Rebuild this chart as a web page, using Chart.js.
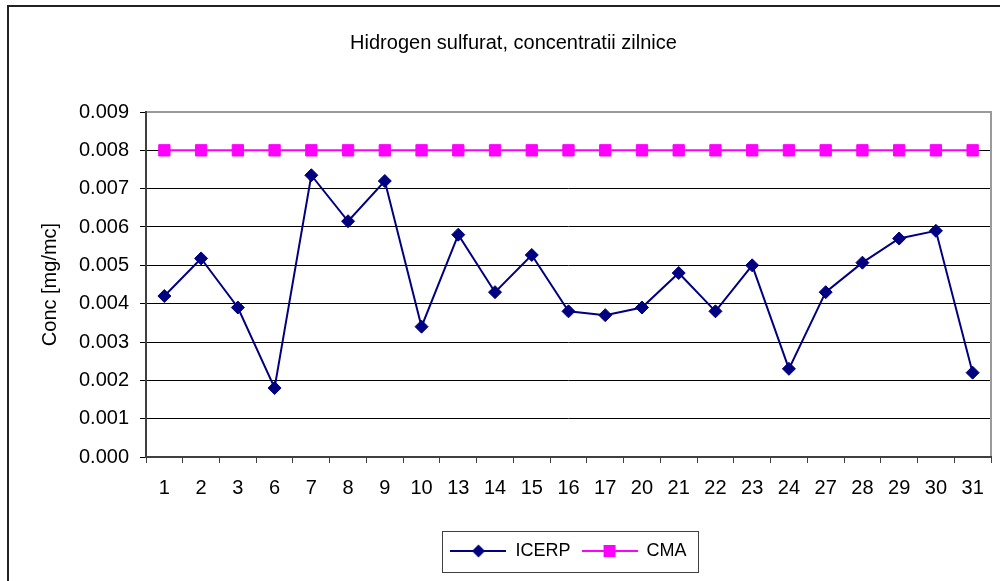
<!DOCTYPE html>
<html>
<head>
<meta charset="utf-8">
<script src="https://cdn.jsdelivr.net/npm/chart.js@4/dist/chart.umd.min.js"></script>
<style>
  html, body { margin: 0; padding: 0; background: #fff; }
  #wrap { width: 1000px; height: 581px; position: relative; }
</style>
</head>
<body>
<div id="wrap"><canvas id="c" width="1000" height="581"></canvas></div>
<script>
const chartTitle = 'Hidrogen sulfurat, concentratii zilnice';
const yAxisTitle = 'Conc [mg/mc]';
const days = ['1','2','3','6','7','8','9','10','13','14','15','16','17','20','21','22','23','24','27','28','29','30','31'];
const icerp = [0.0042,0.00518,0.0039,0.0018,0.00735,0.00615,0.0072,0.0034,0.0058,0.0043,0.00527,0.0038,0.0037,0.0039,0.0048,0.0038,0.0050,0.0023,0.0043,0.00507,0.0057,0.0059,0.0022];
const cma = [0.008,0.008,0.008,0.008,0.008,0.008,0.008,0.008,0.008,0.008,0.008,0.008,0.008,0.008,0.008,0.008,0.008,0.008,0.008,0.008,0.008,0.008,0.008];
const yTicks = [0,0.001,0.002,0.003,0.004,0.005,0.006,0.007,0.008,0.009];

const NAVY = '#000080';
const MAGENTA = '#FF00FF';
const FONT = "'Liberation Sans', Arial, sans-serif";

function legendIcon(color, shape) {
  const c = document.createElement('canvas');
  c.width = 56; c.height = 16;
  const g = c.getContext('2d');
  g.strokeStyle = color; g.lineWidth = 2;
  g.beginPath(); g.moveTo(0, 8); g.lineTo(56, 8); g.stroke();
  g.fillStyle = color;
  g.beginPath();
  if (shape === 'diamond') {
    g.moveTo(28, 1.5); g.lineTo(34.5, 8); g.lineTo(28, 14.5); g.lineTo(21.5, 8); g.closePath();
  } else {
    g.rect(22, 2, 12, 12);
  }
  g.fill();
  return c;
}
const iconIcerp = legendIcon(NAVY, 'diamond');
const iconCma = legendIcon(MAGENTA, 'square');

const framePlugin = {
  id: 'frame',
  beforeDraw(chart) {
    const ctx = chart.ctx;
    ctx.save();
    ctx.fillStyle = '#fff';
    ctx.fillRect(0, 0, chart.width, chart.height);
    ctx.strokeStyle = '#222';
    ctx.lineWidth = 2;
    ctx.beginPath();
    ctx.moveTo(8, chart.height + 5);
    ctx.lineTo(8, 6);
    ctx.lineTo(chart.width + 5, 6);
    ctx.stroke();
    ctx.restore();
  },
  afterDraw(chart) {
    const ctx = chart.ctx;
    const a = chart.chartArea;
    ctx.save();
    ctx.strokeStyle = '#9a9a9a';
    ctx.lineWidth = 2;
    ctx.beginPath();
    ctx.moveTo(a.left, a.top);
    ctx.lineTo(a.right, a.top);
    ctx.lineTo(a.right, a.bottom);
    ctx.stroke();
    ctx.strokeStyle = '#404040';
    ctx.lineWidth = 2;
    ctx.beginPath();
    ctx.moveTo(a.left, a.top - 1);
    ctx.lineTo(a.left, a.bottom);
    ctx.lineTo(a.right + 1, a.bottom);
    ctx.stroke();
    const hb = chart.legend && chart.legend.legendHitBoxes;
    if (hb && hb.length) {
      let minX = Infinity, maxX = -Infinity, minY = Infinity, maxY = -Infinity;
      hb.forEach(h => {
        minX = Math.min(minX, h.left); maxX = Math.max(maxX, h.left + h.width);
        minY = Math.min(minY, h.top); maxY = Math.max(maxY, h.top + h.height);
      });
      ctx.strokeStyle = '#404040';
      ctx.lineWidth = 1;
      ctx.strokeRect(Math.round(minX - 8) + 0.5, Math.round(minY - 11) + 0.5,
                     Math.round(maxX - minX + 20), Math.round(maxY - minY + 23));
    }
    ctx.restore();
  }
};

new Chart(document.getElementById('c'), {
  type: 'line',
  data: {
    labels: days,
    datasets: [
      {
        label: 'ICERP',
        data: icerp,
        borderColor: NAVY,
        backgroundColor: NAVY,
        borderWidth: 2,
        pointStyle: 'rectRot',
        pointRadius: 6.5,
        pointBorderWidth: 1,
        pointBackgroundColor: NAVY,
        pointBorderColor: NAVY,
        tension: 0,
        fill: false,
        order: 1
      },
      {
        label: 'CMA',
        data: cma,
        borderColor: MAGENTA,
        backgroundColor: MAGENTA,
        borderWidth: 2,
        pointStyle: 'rect',
        pointRadius: 8,
        pointBorderWidth: 1,
        pointBackgroundColor: MAGENTA,
        pointBorderColor: MAGENTA,
        tension: 0,
        fill: false,
        order: 2
      }
    ]
  },
  options: {
    responsive: false,
    animation: false,
    devicePixelRatio: 1,
    layout: { padding: { left: 34, right: 7, top: 0, bottom: 11 } },
    plugins: {
      title: {
        display: true,
        text: chartTitle,
        color: '#000',
        font: { family: FONT, size: 20, weight: 'normal', lineHeight: 1.2 },
        padding: { top: 31, bottom: 57 }
      },
      legend: {
        display: true,
        position: 'bottom',
        fullSize: false,
        labels: {
          color: '#000',
          font: { family: FONT, size: 18 },
          usePointStyle: true,
          pointStyleWidth: 56,
          padding: 11,
          generateLabels(chart) {
            return chart.data.datasets.map((ds, i) => ({
              text: ds.label,
              pointStyle: i === 0 ? iconIcerp : iconCma,
              fillStyle: ds.borderColor,
              strokeStyle: ds.borderColor,
              lineWidth: 0,
              hidden: false,
              datasetIndex: i,
              fontColor: '#000'
            }));
          }
        }
      },
      tooltip: { enabled: false }
    },
    scales: {
      x: {
        offset: true,
        grid: {
          display: true,
          offset: true,
          drawOnChartArea: false,
          drawTicks: true,
          tickLength: 6,
          tickColor: '#404040',
          tickWidth: 1
        },
        border: { display: false },
        ticks: {
          color: '#000',
          font: { family: FONT, size: 20 },
          padding: 13,
          maxRotation: 0,
          autoSkip: false
        },
        afterFit(scale) { scale.height = 74; }
      },
      y: {
        min: 0,
        max: 0.009,
        afterBuildTicks(scale) { scale.ticks = yTicks.map(v => ({ value: v })); },
        grid: {
          color(ctx) {
            const v = ctx.tick && ctx.tick.value;
            if (v === 0 || v === 0.009) return 'rgba(0,0,0,0)';
            return '#000';
          },
          lineWidth: 1,
          drawTicks: true,
          tickLength: 6,
          tickColor: '#000'
        },
        border: { display: false },
        ticks: {
          color: '#000',
          font: { family: FONT, size: 20 },
          padding: 11,
          callback(v) { return Number(v).toFixed(3); }
        },
        title: {
          display: true,
          text: yAxisTitle,
          color: '#000',
          font: { family: FONT, size: 20 },
          padding: { top: 4, bottom: 4 }
        },
        afterFit(scale) { scale.width = 112; }
      }
    }
  },
  plugins: [framePlugin]
});
</script>
</body>
</html>
